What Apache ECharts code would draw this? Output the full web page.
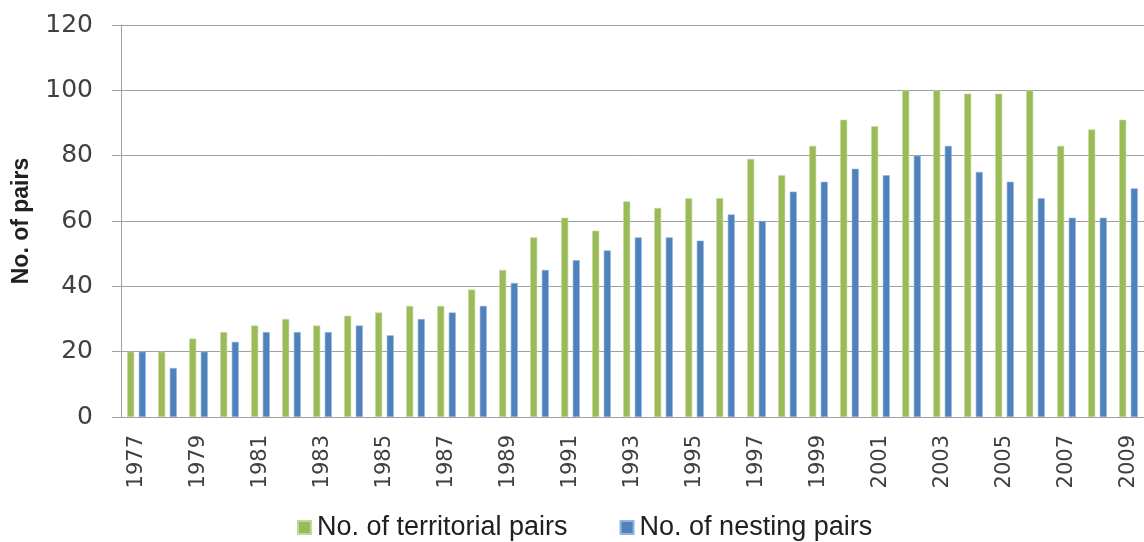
<!DOCTYPE html>
<html>
<head>
<meta charset="utf-8">
<script src="https://cdn.jsdelivr.net/npm/echarts@6/dist/echarts.min.js"></script>
<style>
    html, body { margin: 0; padding: 0; background: #fff; }
    #chart { width: 1144px; height: 542px; }
</style>
</head>
<body>
<div id="chart"></div>
<script>

// 年份

const years = [
    '1977', '1978', '1979', '1980', '1981', '1982', '1983', '1984', '1985', '1986', '1987',
    '1988', '1989', '1990', '1991', '1992', '1993', '1994', '1995', '1996', '1997', '1998',
    '1999', '2000', '2001', '2002', '2003', '2004', '2005', '2006', '2007', '2008', '2009'
];

// 領域配對數

const territorialPairs = [
    20, 20, 24, 26, 28, 30, 28, 31, 32, 34, 34,
    39, 45, 55, 61, 57, 66, 64, 67, 67, 79, 74,
    83, 91, 89, 100, 100, 99, 99, 100, 83, 88, 91
];

// 築巢配對數

const nestingPairs = [
    20, 15, 20, 23, 26, 26, 26, 28, 25, 30, 32,
    34, 41, 45, 48, 51, 55, 55, 54, 62, 60, 69,
    72, 76, 74, 80, 83, 75, 72, 67, 61, 61, 70
];

const seriesNames = ['No. of territorial pairs', 'No. of nesting pairs'];

const textColor = '#404040';
const lineColor = '#a0a0a0';

const chart = echarts.init(document.querySelector('#chart'));
const option = {
    animation: false,
    backgroundColor: '#fff',
    color: ['#9bbb59', '#4f81bd'],
    grid: {
        left: 121,
        top: 25,
        width: 1033,
        height: 392,
    },
    legend: {
        left: 297,
        top: 514,
        padding: 0,
        itemWidth: 13,
        itemHeight: 13,
        itemGap: 52,
        icon: 'rect',
        textStyle: {
            fontFamily: 'Liberation Sans',
            fontSize: 27,
            color: '#202020',
            padding: [0, 0, 0, 1],
        },
        data: seriesNames,
    },
    xAxis: {
        type: 'category',
        data: years,
        axisLine: { lineStyle: { color: lineColor, width: 1 } },
        axisTick: { length: 9, interval: 0, lineStyle: { color: lineColor } },
        axisLabel: {
            interval: 1,
            rotate: 90,
            margin: 18,
            fontFamily: 'DejaVu Sans',
            fontSize: 21,
            color: textColor,
        },
    },
    yAxis: {
        type: 'value',
        min: 0,
        max: 120,
        interval: 20,
        name: 'No. of pairs',
        nameLocation: 'middle',
        nameGap: 88,
        nameTextStyle: {
            fontFamily: 'Liberation Sans',
            fontWeight: 'bold',
            fontSize: 23,
            color: '#202020',
        },
        axisLine: { show: true, lineStyle: { color: lineColor, width: 1 } },
        axisTick: { show: true, length: 9, lineStyle: { color: lineColor } },
        splitLine: { lineStyle: { color: lineColor, width: 1 } },
        axisLabel: {
            margin: 28,
            fontFamily: 'DejaVu Sans',
            fontSize: 25,
            color: textColor,
        },
    },
    series: [
        {
            name: seriesNames[0],
            type: 'bar',
            data: territorialPairs,
            barWidth: 7,
            barGap: '65%',
            itemStyle: { borderColor: '#c4d79b', borderWidth: 0.6 },
        },
        {
            name: seriesNames[1],
            type: 'bar',
            data: nestingPairs,
            barWidth: 7,
            barGap: '65%',
            itemStyle: { borderColor: '#95b3d7', borderWidth: 0.6 },
        }
    ]
};

option && chart.setOption(option);

</script>
</body>
</html>
